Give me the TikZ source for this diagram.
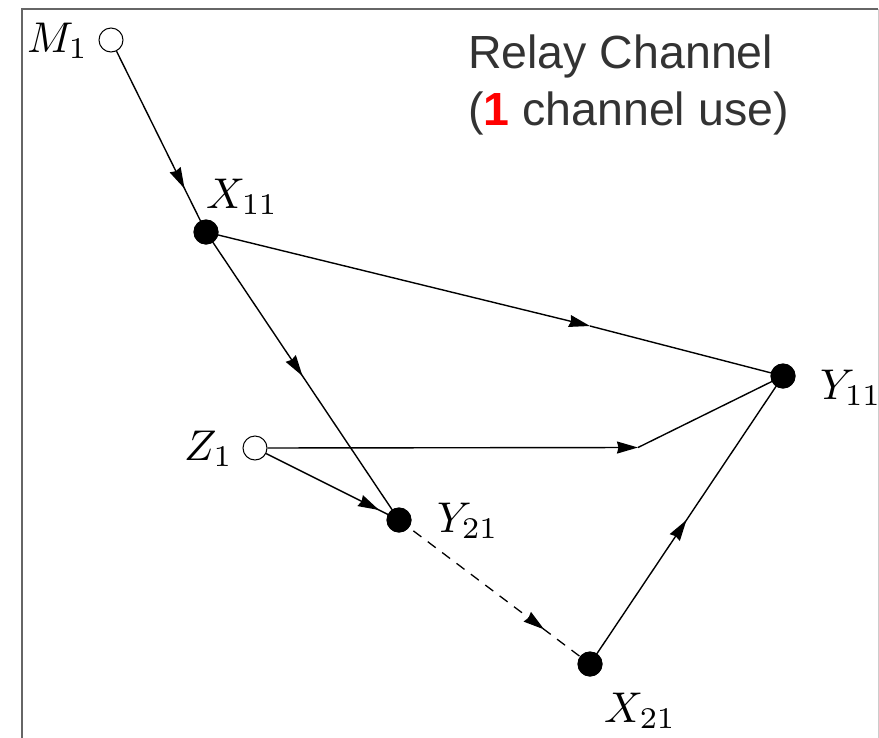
\documentclass[tikz,border=0pt]{standalone}
\usepackage{fontspec}
\usepackage{graphicx}
\newfontfamily\titlefont{Liberation Sans}
\usetikzlibrary{arrows.meta,decorations.markings}
\definecolor{titlegray}{HTML}{333333}
\definecolor{framedark}{HTML}{666666}
\definecolor{framelight}{HTML}{CCCCCC}
\newcommand{\biglbl}[1]{\scalebox{4.3}{$#1$}}
\tikzset{
  opennode/.style={circle,draw=black,fill=white,line width=1pt,minimum size=24pt,inner sep=0pt},
  solidnode/.style={circle,fill=black,minimum size=25pt,inner sep=0pt},
  lbl/.style={anchor=base west,inner sep=0pt},
  ttl/.style={anchor=base west,inner sep=0pt,text=titlegray,font=\titlefont\fontsize{46.5}{55}\selectfont},
  edge/.style={line width=1.4pt},
  tipstyle/.tip={Stealth[length=21pt,width=12pt,inset=1.5pt]},
  midarrow/.style={postaction={decorate},decoration={markings,mark=at position #1 with {\arrow{tipstyle}}}},
  dashedge/.style={line width=1.3pt,dash pattern=on 10pt off 8pt}
}
\begin{document}
\begin{tikzpicture}[x=1pt,y=-1pt]
\useasboundingbox (0,0) rectangle (879,737);
% frame
\draw[framedark,line width=2pt] (21.5,745) -- (21.5,9) -- (878,9);
\draw[framelight,line width=1pt] (878,9) -- (878,745);

% nodes
\node[opennode] (M1) at (111,40) {};
\node[solidnode] (X11) at (206,232) {};
\node[solidnode] (Y11) at (783,376) {};
\node[opennode] (Z1) at (255,448) {};
\node[solidnode] (Y21) at (399,520) {};
\node[solidnode] (X21) at (590,664) {};
\coordinate (kz) at (638,447.5);
\coordinate (kx) at (590,326);

% labels
\node[lbl] (lM1) at (27,52) {\biglbl{M_1}};
\node[lbl] (lX11) at (206,208) {\biglbl{X_{11}}};
\node[lbl] (lY11) at (820,399) {\biglbl{Y_{11}}};
\node[lbl] (lZ1) at (184,460) {\biglbl{Z_1}};
\node[lbl] (lY21) at (437,532) {\biglbl{Y_{21}}};
\node[lbl] (lX21) at (604,722) {\biglbl{X_{21}}};

% title
\node[ttl] (t1) at (468,68) {Relay Channel};
\node[ttl] (t2) at (468,125) {(\textcolor{red}{\textbf{1}} channel use)};

% edges
\draw[edge,midarrow=0.76] (M1) -- (X11.center);
\draw[edge,-{tipstyle}] (X11.center) -- (kx);
\draw[edge] (kx) -- (Y11.center);
\draw[edge,midarrow=0.5] (X11.center) -- (Y21.center);
\draw[edge,-{tipstyle}] (Z1) -- (kz);
\draw[edge] (kz) -- (Y11.center);
\draw[edge,midarrow=0.85] (Z1) -- (Y21.center);
\draw[dashedge,midarrow=0.76] (Y21.center) -- (X21.center);
\draw[edge,midarrow=0.5] (X21.center) -- (Y11.center);

% redraw nodes on top
\node[solidnode] at (X11) {};
\node[solidnode] at (Y11) {};
\node[solidnode] at (Y21) {};
\node[solidnode] at (X21) {};
\end{tikzpicture}
\end{document}
